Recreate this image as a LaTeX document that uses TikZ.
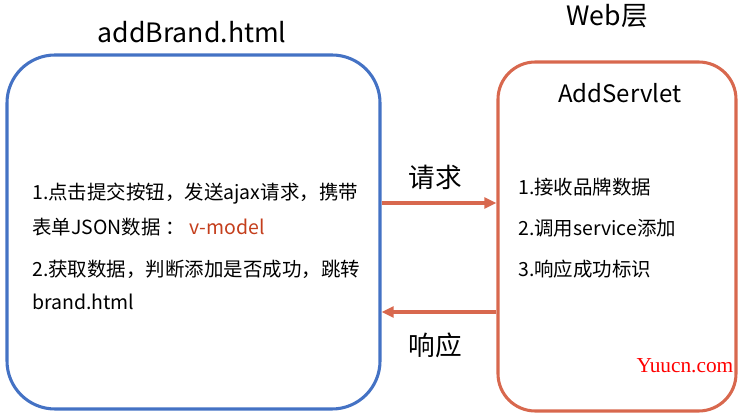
\documentclass[tikz,border=0pt]{standalone}
\usepackage{fontspec}
\setmainfont{Noto Sans CJK SC}
\newfontfamily\markfont{Liberation Serif}
\usetikzlibrary{arrows.meta,positioning}
\definecolor{boxblue}{RGB}{68,114,196}
\definecolor{boxred}{RGB}{216,104,78}
\definecolor{vmodel}{RGB}{196,62,28}
\tikzset{
	page/.style={draw,rounded corners=36pt,line width=2.3pt,minimum width=279.75pt,minimum height=265.5pt},
	flow/.style={boxred,line width=2.5pt,-{Triangle[length=9pt,width=8pt]}},
	item/.style={anchor=base west,inner sep=0pt,font=\fontsize{14.6pt}{17pt}\selectfont},
	title/.style={font=\fontsize{20pt}{24pt}\selectfont}
}
\begin{document}
\begin{tikzpicture}[x=0.75pt,y=-0.75pt]
	\useasboundingbox (0,0) rectangle (747,420);
	% Boxes
	\node[page,boxblue] (brand) at (193.5,232) {};
	\node[page,boxred,rounded corners=28pt,minimum width=178.5pt,minimum height=261.75pt] (servlet) at (617,236.5) {};
	% Titles
	\node[title] (brandtitle) at (192,32) {addBrand.html};
	\node[title] (webtitle) at (607,16) {Web层};
	\node[font=\fontsize{18pt}{22pt}\selectfont] (servlettitle) at (620,93) {AddServlet};
	% Page steps
	\node[item] (b1a) at (32,200) {1.点击提交按钮，发送ajax请求，携带};
	\node[item] (b1b) at (32,235) {表单JSON数据\hspace{4pt}： \textcolor{vmodel}{v-model}};
	\node[item] (b2a) at (32,277) {2.获取数据，判断添加是否成功，跳转};
	\node[item] (b2b) at (32,310) {brand.html};
	% Servlet steps
	\node[item] (s1) at (518,195) {1.接收品牌数据};
	\node[item] (s2) at (518,236) {2.调用service添加};
	\node[item] (s3) at (518,277) {3.响应成功标识};
	% Request / response
	\coordinate (reqy) at (0,203);
	\coordinate (resy) at (0,312);
	\draw[flow] (brand.east |- reqy) -- (servlet.west |- reqy);
	\draw[flow] (servlet.west |- resy) -- (brand.east |- resy);
	\node[title] (req) at (435,177) {请求};
	\node[title] (res) at (435,345) {响应};
	% Watermark
	\node[red,font=\markfont\fontsize{16pt}{18pt}\selectfont] (mark) at (685,366) {Yuucn.com};
\end{tikzpicture}
\end{document}
